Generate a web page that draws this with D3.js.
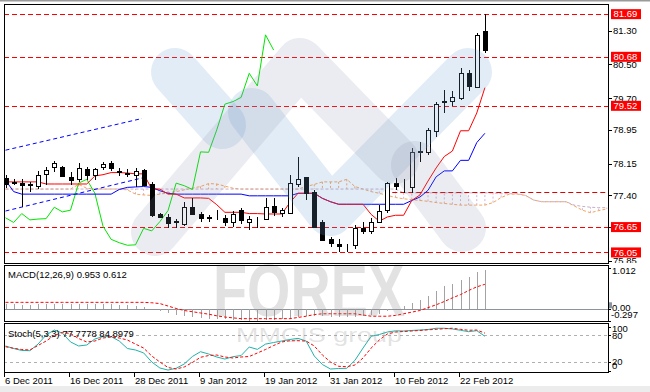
<!DOCTYPE html>
<html>
<head>
<meta charset="utf-8">
<script src="https://cdn.jsdelivr.net/npm/d3@7"></script>
<style>
  body { margin: 0; background: #fff; }
  svg { display: block; font-family: "Liberation Sans", Arial, sans-serif; }
</style>
</head>
<body>
<svg id="chart" width="650" height="392"></svg>
<script>
// daily bars, 6 Dec 2011 .. 27 Feb 2012
const open  = [77.81,77.70,77.70,77.66,77.62,77.90,78.07,78.07,77.84,77.79,78.02,77.88,78.08,78.17,77.98,77.94,77.88,78.00,77.67,76.96,
               76.89,76.79,76.72,77.13,76.96,76.89,76.88,76.86,76.78,77.05,76.78,76.84,76.84,77.15,76.99,76.99,77.67,77.83,77.49,76.78,
               76.37,76.26,76.22,76.22,76.64,76.56,76.78,77.04,77.69,77.55,77.60,78.45,78.43,78.91,79.64,79.62,79.70,80.29,79.96,81.28];
const high  = [77.88,77.79,77.79,77.72,77.98,78.07,78.22,78.10,77.96,78.16,78.08,78.05,78.19,78.21,78.04,78.02,78.04,78.02,77.72,76.99,
               76.96,76.83,77.25,77.35,77.01,76.93,77.05,76.93,77.04,77.09,76.91,76.89,77.33,77.33,77.09,77.88,78.32,77.84,77.53,76.82,
               76.42,76.37,76.26,76.70,76.78,76.86,77.17,77.72,77.80,77.78,78.51,78.67,78.99,79.62,79.90,79.86,80.41,80.37,81.24,81.69];
const low   = [77.57,77.65,77.12,77.49,77.55,77.65,77.96,77.83,77.65,77.72,77.76,77.76,78.00,77.98,77.86,77.83,77.60,77.62,76.89,76.88,
               76.64,76.64,76.67,76.96,76.78,76.78,76.82,76.67,76.66,76.72,76.58,76.64,76.82,76.91,76.88,76.96,77.60,77.29,76.65,76.34,
               76.17,76.06,76.05,76.14,76.48,76.48,76.74,76.99,77.53,77.45,77.45,78.20,78.36,78.79,79.34,79.52,79.66,79.86,79.94,80.78];
const close = [77.67,77.72,77.66,77.63,77.88,77.99,78.16,77.86,77.76,78.04,77.88,78.02,78.15,78.06,77.95,77.91,77.98,77.65,76.93,76.89,
               76.74,76.76,77.13,76.97,76.86,76.87,76.87,76.76,76.97,76.82,76.84,76.85,77.12,77.01,77.05,77.69,77.78,77.45,76.67,76.36,
               76.28,76.22,76.23,76.62,76.56,76.78,77.04,77.69,77.63,77.54,78.43,78.42,78.95,79.56,79.62,79.72,80.29,79.99,81.20,80.84];

// Ichimoku (9,26,52)
const tenkan = [77.72,77.72,77.72,77.72,77.72,77.67,77.67,77.67,77.67,77.67,77.67,77.86,77.89,77.94,77.94,77.93,77.91,77.91,77.55,77.55,
                77.43,77.43,77.34,77.34,77.34,77.33,77.18,77.00,77.00,77.00,76.97,76.97,76.96,76.96,76.96,77.23,77.45,77.45,77.45,77.33,
                77.25,77.19,77.19,77.19,77.19,76.95,76.79,76.89,76.93,76.93,77.28,77.41,77.74,78.05,78.32,78.45,78.93,78.93,79.35,79.95];
const kijun  = [77.76,77.49,77.43,77.43,77.43,77.43,77.43,77.43,77.43,77.43,77.43,77.43,77.43,77.43,77.54,77.59,77.60,77.61,77.59,77.51,
                77.45,77.43,77.43,77.43,77.43,77.43,77.43,77.43,77.43,77.43,77.39,77.39,77.39,77.39,77.39,77.39,77.45,77.45,77.45,77.33,
                77.25,77.19,77.19,77.19,77.19,77.19,77.19,77.19,77.19,77.19,77.28,77.36,77.52,77.84,77.98,77.98,78.23,78.23,78.65,78.87];
const chikou = [76.87,76.76,76.97,76.82,76.84,76.85,77.12,77.01,77.05,77.69,77.78,77.45,76.67,76.36,76.28,76.22,76.23,76.62,76.56,76.78,
                77.04,77.69,77.63,77.54,78.43,78.42,78.95,79.56,79.62,79.72,80.29,79.99,81.20,80.84];
const senkouA = [77.55,77.55,77.55,77.55,77.55,77.55,77.55,77.55,77.55,77.66,77.57,77.55,77.55,77.55,77.55,
                 77.53,77.43,77.41,77.40,77.43,77.46,77.49,77.53,77.57,77.61,77.68,77.67,77.62,77.57,77.55,
                 77.55,77.55,77.55,77.55,77.55,77.55,77.55,77.61,77.66,77.72,77.72,77.72,77.78,77.61,
                 77.55,77.49,77.45,77.40,77.35,77.32,77.30,77.28,77.26,77.23,77.21,77.19,77.17,77.17,77.17,77.17,
                 77.23,77.35,77.43,77.43,77.40,77.29,77.25,77.25,77.25,77.25,77.15,77.05,76.99,77.04,77.08];
const senkouB = [77.55,77.55,77.55,77.55,77.55,77.55,77.55,77.55,77.55,77.55,77.55,77.55,77.55,77.55,77.55,
                 77.55,77.55,77.55,77.55,77.55,77.55,77.55,77.55,77.55,77.55,77.55,77.55,77.55,77.55,77.55,
                 77.55,77.55,77.55,77.55,77.55,77.55,77.55,77.55,77.55,77.55,77.55,77.55,77.55,77.55,
                 77.55,77.55,77.55,77.55,77.55,77.46,77.46,77.46,77.46,77.46,77.46,77.46,77.46,77.46,77.46,77.46,
                 77.46,77.44,77.44,77.44,77.40,77.29,77.25,77.25,77.25,77.25,77.17,77.14,77.12,77.11,77.11];

// MACD(12,26,9)
const macdMain = [0.12,0.12,0.11,0.11,0.12,0.13,0.14,0.13,0.12,0.12,0.12,0.12,0.13,0.13,0.11,0.10,0.09,0.06,0.01,-0.04,
                  -0.09,-0.13,-0.16,-0.18,-0.21,-0.23,-0.24,-0.25,-0.26,-0.27,-0.28,-0.28,-0.27,-0.26,-0.25,-0.22,-0.19,-0.17,-0.16,-0.17,
                  -0.18,-0.19,-0.19,-0.18,-0.17,-0.15,-0.11,-0.05,0.01,0.07,0.15,0.22,0.33,0.46,0.56,0.63,0.73,0.80,0.91,0.953];
const macdSignal = [0.17,0.17,0.17,0.17,0.17,0.17,0.17,0.17,0.17,0.17,0.17,0.17,0.17,0.17,0.17,0.17,0.17,0.17,0.16,0.14,
                    0.08,0.02,-0.03,-0.06,-0.09,-0.12,-0.16,-0.19,-0.21,-0.23,-0.23,-0.23,-0.23,-0.23,-0.23,-0.23,-0.20,-0.17,-0.13,-0.11,
                    -0.11,-0.11,-0.11,-0.11,-0.14,-0.17,-0.17,-0.17,-0.15,-0.11,-0.07,-0.03,0.04,0.11,0.19,0.28,0.36,0.46,0.55,0.612];

// Stochastic(5,3,3)
const stochMain = [55.7,50,45.5,45,60,80.7,92,85,65,55.7,58,71.6,77,77,67,50,46.6,40,19.3,5.7,
                   1,5,14.8,31.8,42.7,37.5,30.7,26,31.4,34,53.4,48,60,63.6,67,70.5,73,67,33,13.6,
                   3.4,4.5,5,23,51,77.7,81.8,87.5,90.2,89.8,91,92,93.2,96,96,94.3,91.4,88.2,90.5,77.7778];
const stochSignal = [54,50.5,47.7,46.6,56.8,67,79.5,86.4,84,72.7,64.8,67,73.9,76,73.9,69.3,60,51,33,19.3,
                     6.8,3.4,8,18.2,30,34,35.2,30.7,28.4,30.7,31.8,39.8,47.7,56.8,64.8,67.7,67.7,67,55.7,35.2,
                     19.3,9.5,8.6,12.5,28.4,51,69.3,83,87.5,88.6,89.8,91,92.5,93.6,95,96,93.6,91.4,92,84.8979];

const priceTicks = [81.30, 80.50, 79.70, 78.95, 78.15, 77.40, 76.65, 75.85];
const levelPrices = [81.69, 80.68, 79.52, 76.65, 76.05];
const rayPrice = 77.49, rayStart = 47.6;
const trendUpper = [[0, 78.47], [16.8, 79.22]];
const trendLower = [[0, 77.03], [17.4, 77.84]];
const macdTicks = [1.012, 0, -0.297];
const stochTicks = [100, 80, 20, 0];
const stochLevels = [80, 20];
const dateLabels = ["6 Dec 2011", "16 Dec 2011", "28 Dec 2011", "9 Jan 2012", "19 Jan 2012", "31 Jan 2012", "10 Feb 2012", "22 Feb 2012"];
const dateIndex = [0, 8, 16, 24, 32, 40, 48, 56];

const svg = d3.select("#chart");
const left = 4, right = 608;
const main = { top: 4, bottom: 263 };
const macdP = { top: 265, bottom: 321 };
const stochP = { top: 323, bottom: 372 };

const x = d3.scaleLinear().domain([0, 59]).range([5.5, 484.9]);
const y = d3.scaleLinear().domain([75.80, 81.93]).range([main.bottom, main.top]);
const yM = d3.scaleLinear().domain([-0.297, 1.012]).range([321.4, 268]);
const yS = d3.scaleLinear().domain([0, 100]).range([370.5, 326.5]);

svg.append("rect").attr("width", 650).attr("height", 392).attr("fill", "#fff");
svg.append("rect").attr("x", 0).attr("y", 0).attr("width", 650).attr("height", 1.5).attr("fill", "#9a9a9a");
svg.append("rect").attr("x", 0).attr("y", 386).attr("width", 650).attr("height", 6).attr("fill", "#ececec");

const defs = svg.append("defs");
[["clipMain", main], ["clipMacd", macdP], ["clipStoch", stochP]].forEach(([id, p]) => {
  defs.append("clipPath").attr("id", id).append("rect")
    .attr("x", left + 1).attr("y", p.top + 1)
    .attr("width", right - left - 1).attr("height", p.bottom - p.top - 1);
});

// ---------- main panel ----------
const gMain = svg.append("g").attr("clip-path", "url(#clipMain)");
const bars = d3.range(open.length);
const cloudIdx = d3.range(senkouA.length);

// cloud hatch
gMain.append("g")
  .selectAll("line").data(cloudIdx.filter(i => Math.abs(senkouA[i] - senkouB[i]) > 0.005)).join("line")
  .attr("x1", i => x(i)).attr("x2", i => x(i))
  .attr("y1", i => y(senkouA[i])).attr("y2", i => y(senkouB[i]))
  .attr("stroke", i => senkouA[i] > senkouB[i] ? "#f4a460" : "#d2b4d2")
  .attr("stroke-width", 1)
  .attr("stroke-dasharray", "2,2");

const lineOf = (scale) => d3.line().x((d, i) => x(i)).y(d => scale(d));

gMain.append("path").attr("d", lineOf(y)(senkouA))
  .attr("fill", "none").attr("stroke", "#f4a460").attr("stroke-dasharray", "3,2");
gMain.append("path").attr("d", lineOf(y)(senkouB))
  .attr("fill", "none").attr("stroke", "#c8aec8").attr("stroke-dasharray", "3,2");

// horizontal levels
gMain.append("g").selectAll("line").data(levelPrices).join("line")
  .attr("x1", left).attr("x2", right)
  .attr("y1", d => Math.round(y(d)) + 0.5).attr("y2", d => Math.round(y(d)) + 0.5)
  .attr("stroke", "#ff0000").attr("stroke-dasharray", "5,3");
gMain.append("line")
  .attr("x1", x(rayStart)).attr("x2", right)
  .attr("y1", Math.round(y(rayPrice)) + 0.5).attr("y2", Math.round(y(rayPrice)) + 0.5)
  .attr("stroke", "#e00000").attr("stroke-dasharray", "5,3");

// trend channel
[trendUpper, trendLower].forEach(t => {
  gMain.append("line")
    .attr("x1", x(t[0][0])).attr("y1", y(t[0][1]))
    .attr("x2", x(t[1][0])).attr("y2", y(t[1][1]))
    .attr("stroke", "#0000ff").attr("stroke-dasharray", "4,3");
});

gMain.append("path").attr("d", lineOf(y)(chikou)).attr("fill", "none").attr("stroke", "#00e600");
gMain.append("path").attr("d", lineOf(y)(kijun)).attr("fill", "none").attr("stroke", "#0000ff");
gMain.append("path").attr("d", lineOf(y)(tenkan)).attr("fill", "none").attr("stroke", "#ff0000");

// candles
const gC = gMain.append("g").attr("shape-rendering", "crispEdges");
gC.selectAll("line").data(bars).join("line")
  .attr("x1", i => Math.round(x(i)) + 0.5).attr("x2", i => Math.round(x(i)) + 0.5)
  .attr("y1", i => y(high[i])).attr("y2", i => y(low[i]))
  .attr("stroke", "#000");
gC.selectAll("rect").data(bars).join("rect")
  .attr("x", i => Math.round(x(i)) - 1.5)
  .attr("y", i => Math.round(y(Math.max(open[i], close[i]))) + 0.5)
  .attr("width", 4)
  .attr("height", i => Math.max(0, Math.round(Math.abs(y(open[i]) - y(close[i])))))
  .attr("fill", i => close[i] >= open[i] ? "#fff" : "#000")
  .attr("stroke", "#000");

// ---------- MACD panel ----------
const gMacd = svg.append("g").attr("clip-path", "url(#clipMacd)");
gMacd.append("line").attr("x1", left).attr("x2", right)
  .attr("y1", Math.round(yM(0)) + 0.5).attr("y2", Math.round(yM(0)) + 0.5)
  .attr("stroke", "#8c939a");
gMacd.append("g").attr("shape-rendering", "crispEdges")
  .selectAll("line").data(bars).join("line")
  .attr("x1", i => Math.round(x(i)) + 0.5).attr("x2", i => Math.round(x(i)) + 0.5)
  .attr("y1", yM(0)).attr("y2", i => yM(macdMain[i]))
  .attr("stroke", "#a3a3a3");
gMacd.append("path").attr("d", lineOf(yM)(macdSignal))
  .attr("fill", "none").attr("stroke", "#ff0000").attr("stroke-dasharray", "3,2");

// ---------- Stochastic panel ----------
const gSt = svg.append("g").attr("clip-path", "url(#clipStoch)");
gSt.selectAll("line").data(stochLevels).join("line")
  .attr("x1", left).attr("x2", right)
  .attr("y1", d => Math.round(yS(d)) + 0.5).attr("y2", d => Math.round(yS(d)) + 0.5)
  .attr("stroke", "#b0b0b0").attr("stroke-dasharray", "3,3");
gSt.append("path").attr("d", lineOf(yS)(stochMain))
  .attr("fill", "none").attr("stroke", "#20b2aa");
gSt.append("path").attr("d", lineOf(yS)(stochSignal))
  .attr("fill", "none").attr("stroke", "#ff0000").attr("stroke-dasharray", "3,2");

// ---------- watermark ----------
const wm = svg.append("g").attr("pointer-events", "none");
const band = (pts, color, op) => wm.append("path")
  .attr("d", d3.line()(pts))
  .attr("fill", "none").attr("stroke", color).attr("stroke-opacity", op)
  .attr("stroke-width", 48).attr("stroke-linecap", "round").attr("stroke-linejoin", "round");
band([[175, 72], [222, 125]], "#6f9fd2", 0.2);
band([[252, 112], [330, 212], [468, 72]], "#6f9fd2", 0.2);
band([[155, 232], [300, 62], [395, 160]], "#8a90aa", 0.17);
band([[415, 165], [462, 228]], "#8a90aa", 0.17);
wm.append("text").attr("x", 213).attr("y", 316)
  .attr("font-size", 74).attr("font-weight", "bold")
  .attr("textLength", 192).attr("lengthAdjust", "spacingAndGlyphs")
  .attr("fill", "#8f8f8f").attr("fill-opacity", 0.26).text("FOREX");
wm.append("text").attr("x", 236).attr("y", 342)
  .attr("font-size", 21)
  .attr("textLength", 166).attr("lengthAdjust", "spacingAndGlyphs")
  .attr("fill", "#8f8f8f").attr("fill-opacity", 0.26).text("MMCIS group");

// ---------- frames ----------
const frames = svg.append("g").attr("fill", "none").attr("stroke", "#000").attr("shape-rendering", "crispEdges");
[main, macdP, stochP].forEach(p => {
  frames.append("rect").attr("x", left + 0.5).attr("y", p.top + 0.5)
    .attr("width", right - left).attr("height", p.bottom - p.top);
});

// ---------- right axis ----------
const axisG = svg.append("g").attr("font-size", 9.5).attr("fill", "#000");
defs.append("clipPath").attr("id", "clipAxisMain").append("rect")
  .attr("x", right).attr("y", 0).attr("width", 650 - right).attr("height", main.bottom);
const axMain = axisG.append("g").attr("clip-path", "url(#clipAxisMain)");
priceTicks.forEach(v => {
  const yy = Math.round(y(v)) + 0.5;
  axMain.append("line").attr("x1", right).attr("x2", right + 4).attr("y1", yy).attr("y2", yy).attr("stroke", "#000");
  axMain.append("text").attr("x", 613).attr("y", y(v)).attr("dy", "0.35em").text(v.toFixed(2));
});
levelPrices.forEach(v => {
  axMain.append("rect").attr("x", 611).attr("y", y(v) - 5).attr("width", 30).attr("height", 10).attr("fill", "#ff0000");
  axMain.append("text").attr("x", 613.5).attr("y", y(v)).attr("dy", "0.35em").attr("fill", "#fff").text(v.toFixed(2));
});

const clampY = (v, p) => Math.min(Math.max(v, p.top + 6), p.bottom - 6);
axisG.append("rect").attr("x", 609).attr("y", yM(0) - 7).attr("width", 3).attr("height", 6).attr("fill", "#8795a3");
macdTicks.forEach(v => {
  const yy = Math.round(yM(v)) + 0.5;
  axisG.append("line").attr("x1", right).attr("x2", right + 3).attr("y1", yy).attr("y2", yy).attr("stroke", "#000");
  axisG.append("text").attr("x", v < 0 ? 611 : 612).attr("y", clampY(yM(v), macdP) - (v === 0 ? 1.5 : 0))
    .attr("dy", "0.35em").text(v === 0 ? "0.00" : String(v));
});
stochTicks.forEach(v => {
  const yy = Math.round(yS(v)) + 0.5;
  axisG.append("line").attr("x1", right).attr("x2", right + 3).attr("y1", yy).attr("y2", yy).attr("stroke", "#000");
  axisG.append("text").attr("x", 612).attr("y", clampY(yS(v), stochP))
    .attr("dy", "0.35em").text(String(v));
});

// ---------- titles ----------
svg.append("text").attr("x", 8).attr("y", 275).attr("dy", "0.35em").attr("font-size", 9.5)
  .text(`MACD(12,26,9) ${macdMain[59].toFixed(3)} ${macdSignal[59].toFixed(3)}`);
svg.append("text").attr("x", 8).attr("y", 334).attr("dy", "0.35em").attr("font-size", 9.5)
  .text(`Stoch(5,3,3) ${stochMain[59].toFixed(4)} ${stochSignal[59].toFixed(4)}`);

// ---------- date axis ----------
const dates = svg.append("g").attr("font-size", 9.5);
dateIndex.forEach((idx, k) => {
  const xx = Math.round(x(idx)) - 1.5;
  dates.append("line").attr("x1", xx).attr("x2", xx).attr("y1", stochP.bottom).attr("y2", stochP.bottom + 5)
    .attr("stroke", "#000");
  dates.append("text").attr("x", xx + 0.5).attr("y", 384).text(dateLabels[k]);
});
</script>
</body>
</html>
